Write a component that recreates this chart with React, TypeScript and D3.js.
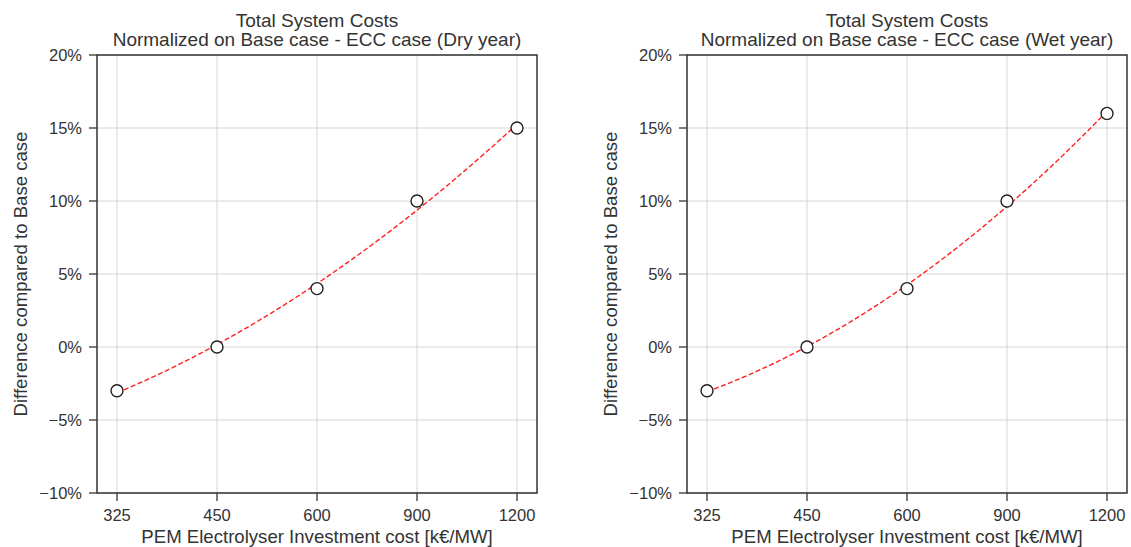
import React from "react";
import * as d3 from "d3";

const categories = ["325", "450", "600", "900", "1200"];
const dryValues = [-3, 0, 4, 10, 15];
const wetValues = [-3, 0, 4, 10, 16];
const yTicks = [-10, -5, 0, 5, 10, 15, 20];
const titles = [
  ["Total System Costs", "Normalized on Base case - ECC case (Dry year)"],
  ["Total System Costs", "Normalized on Base case - ECC case (Wet year)"],
];
const xLabel = "PEM Electrolyser Investment cost [k€/MW]";
const yLabel = "Difference compared to Base case";

const W = 1131;
const H = 547;
const TEXT = "#333";
const FONT = "'Liberation Sans', Arial, sans-serif";

// quadratic least-squares fit on category index (trend line as in source)
function quadFit(ys: number[]) {
  const n = ys.length;
  const xs = ys.map((_, i) => i);
  const s = (f: (x: number, y: number) => number) =>
    d3.sum(xs, (x, i) => f(x, ys[i]));
  const S0 = n, S1 = s((x) => x), S2 = s((x) => x * x), S3 = s((x) => x ** 3), S4 = s((x) => x ** 4);
  const T0 = s((_, y) => y), T1 = s((x, y) => x * y), T2 = s((x, y) => x * x * y);
  const A = [
    [S0, S1, S2, T0],
    [S1, S2, S3, T1],
    [S2, S3, S4, T2],
  ];
  for (let i = 0; i < 3; i++) {
    for (let j = i + 1; j < 3; j++) {
      const f = A[j][i] / A[i][i];
      for (let k = i; k < 4; k++) A[j][k] -= f * A[i][k];
    }
  }
  const c = [0, 0, 0];
  for (let i = 2; i >= 0; i--) {
    let v = A[i][3];
    for (let k = i + 1; k < 3; k++) v -= A[i][k] * c[k];
    c[i] = v / A[i][i];
  }
  return (x: number) => c[0] + c[1] * x + c[2] * x * x;
}

function Panel({ left, values, title }: { left: number; values: number[]; title: string[] }) {
  const top = 55;
  const bottom = 493;
  const width = 440;
  const x = d3.scaleLinear().domain([-0.2, categories.length - 1 + 0.2]).range([left, left + width]);
  const y = d3.scaleLinear().domain([-10, 20]).range([bottom, top]);
  const f = quadFit(values);
  const samples = d3.range(0, categories.length - 1 + 1e-9, 0.05);
  const line = d3
    .line<number>()
    .x((t) => x(t))
    .y((t) => y(f(t)))(samples) as string;
  const cx = left + width / 2;
  const fmt = (v: number) => (v < 0 ? "\u2212" + Math.abs(v) : String(v)) + "%";
  return (
    <g>
      {categories.map((c, i) => (
        <line key={"gx" + c} x1={x(i)} x2={x(i)} y1={top} y2={bottom} stroke="#d6d6d6" strokeWidth={1} />
      ))}
      {yTicks.map((t) => (
        <line key={"gy" + t} x1={left} x2={left + width} y1={y(t)} y2={y(t)} stroke="#d6d6d6" strokeWidth={1} />
      ))}
      <path d={line} fill="none" stroke="#ff2020" strokeWidth={1.4} strokeDasharray="5,2.5" />
      {values.map((v, i) => (
        <circle key={"p" + i} cx={x(i)} cy={y(v)} r={6} fill="white" stroke="#222" strokeWidth={1.4} />
      ))}
      <rect x={left} y={top} width={width} height={bottom - top} fill="none" stroke="#333" strokeWidth={1.5} />
      {yTicks.map((t) => (
        <g key={"ty" + t}>
          <line x1={left - 8} x2={left} y1={y(t)} y2={y(t)} stroke="#333" strokeWidth={1.3} />
          <text x={left - 15} y={y(t)} dy="0.35em" textAnchor="end" fontSize={16.5} fill={TEXT} fontFamily={FONT}>
            {fmt(t)}
          </text>
        </g>
      ))}
      {categories.map((c, i) => (
        <g key={"tx" + c}>
          <line x1={x(i)} x2={x(i)} y1={bottom} y2={bottom + 8} stroke="#333" strokeWidth={1.3} />
          <text x={x(i)} y={521} textAnchor="middle" fontSize={16.5} fill={TEXT} fontFamily={FONT}>
            {c}
          </text>
        </g>
      ))}
      <text x={cx} y={27} textAnchor="middle" fontSize={19} fill={TEXT} fontFamily={FONT}>
        {title[0]}
      </text>
      <text x={cx} y={46} textAnchor="middle" fontSize={19} fill={TEXT} fontFamily={FONT}>
        {title[1]}
      </text>
      <text x={cx} y={543} textAnchor="middle" fontSize={18.6} fill={TEXT} fontFamily={FONT}>
        {xLabel}
      </text>
      <text
        transform={`translate(${left - 70},${(top + bottom) / 2}) rotate(-90)`}
        textAnchor="middle"
        fontSize={18.6}
        fill={TEXT}
        fontFamily={FONT}
      >
        {yLabel}
      </text>
    </g>
  );
}

export default function App() {
  return (
    <svg width={W} height={H} style={{ position: "absolute", left: 0, top: 0, background: "white" }}>
      <rect width={W} height={H} fill="white" />
      <Panel left={97} values={dryValues} title={titles[0]} />
      <Panel left={687} values={wetValues} title={titles[1]} />
    </svg>
  );
}
